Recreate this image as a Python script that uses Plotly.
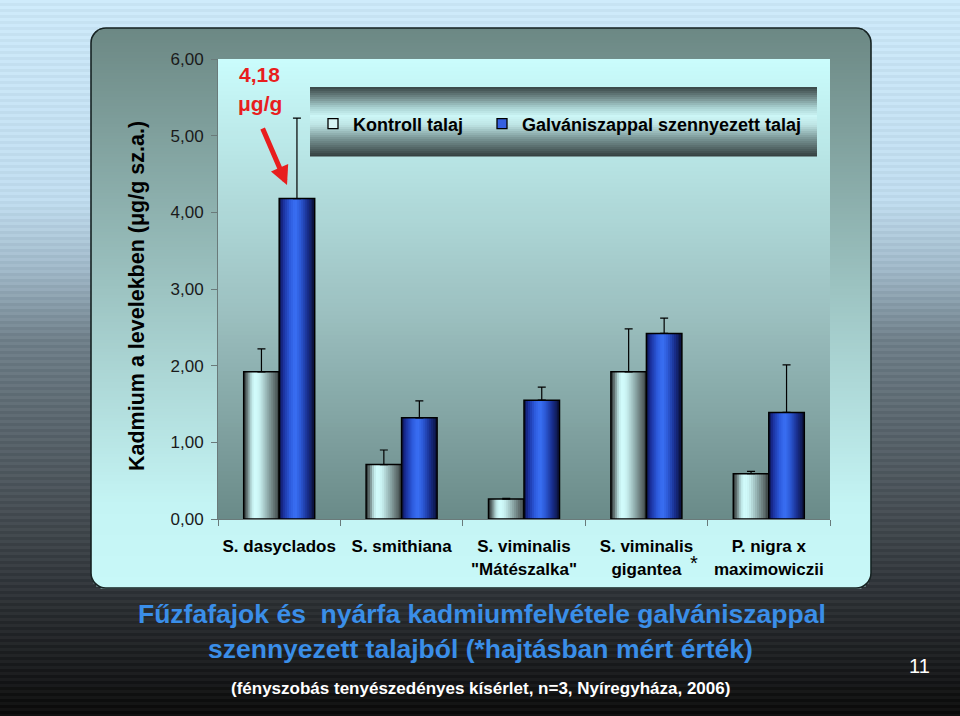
import math
import plotly.graph_objects as go

# ---------------- data ----------------
categories = ["S. dasyclados", "S. smithiana", 'S. viminalis<br>"Mátészalka"',
              "S. viminalis<br>gigantea", "P. nigra x<br>maximowiczii"]
series_names = ["Kontroll talaj", "Galvániszappal szennyezett talaj"]
kontroll = [1.92, 0.71, 0.26, 1.92, 0.59]
kontroll_err = [0.30, 0.19, 0.01, 0.56, 0.03]
galv = [4.18, 1.32, 1.55, 2.42, 1.39]
galv_err = [1.05, 0.22, 0.17, 0.20, 0.62]
ytick_vals = [0, 1, 2, 3, 4, 5, 6]
ytick_text = ["0,00", "1,00", "2,00", "3,00", "4,00", "5,00", "6,00"]

# ---------------- geometry / style ----------------
W, H = 960, 716
L, R, T, B = 218, 830, 59, 519
FONT = "Liberation Sans, Arial, sans-serif"


def px2x(px):
    return (px - L) / (R - L)


def py2y(py):
    return (B - py) / (B - T)


def interp(stops, t):
    t = max(0.0, min(1.0, t))
    for (t0, c0), (t1, c1) in zip(stops[:-1], stops[1:]):
        if t0 <= t <= t1:
            f = 0 if t1 == t0 else (t - t0) / (t1 - t0)
            return tuple(c0[k] + (c1[k] - c0[k]) * f for k in range(3))
    return stops[-1][1]


def rgb(c, d=0):
    return "rgb(%d,%d,%d)" % tuple(max(0, min(255, int(round(v + d)))) for v in c)


shapes = []


def stripe_rect(x0, x1, y0, y1, color):
    shapes.append(dict(type="rect", xref="paper", yref="paper",
                       x0=px2x(x0), x1=px2x(x1), y0=py2y(y1), y1=py2y(y0),
                       line=dict(width=0), fillcolor=color, layer="below"))


# slide background (vertical gradient with fine horizontal stripes)
bg_stops = [(0, (204, 232, 248)), (200 / H, (192, 220, 238)), (270 / H, (160, 184, 200)),
            (340 / H, (112, 128, 138)), (420 / H, (92, 104, 112)), (500 / H, (74, 82, 88)),
            (600 / H, (46, 50, 54)), (1, (14, 14, 14))]
step = 3
for i, y in enumerate(range(0, H, step)):
    c = interp(bg_stops, (y + step / 2) / H)
    stripe_rect(-5, W + 5, y, y + step + 0.6, rgb(c, -5 if i % 2 else 3))

# rounded panel with gradient
PX0, PX1, PY0, PY1, RAD = 91, 871, 28, 588, 15
panel_stops = [(0, (108, 136, 132)), (0.85, (196, 244, 244)), (1, (200, 248, 248))]
step = 3
y = PY0
while y < PY1:
    y1 = min(y + step, PY1)
    ym = (y + y1) / 2
    inset = 0
    if ym < PY0 + RAD:
        dy = PY0 + RAD - ym
        inset = RAD - math.sqrt(max(0, RAD ** 2 - dy ** 2))
    elif ym > PY1 - RAD:
        dy = ym - (PY1 - RAD)
        inset = RAD - math.sqrt(max(0, RAD ** 2 - dy ** 2))
    c = interp(panel_stops, (ym - PY0) / (PY1 - PY0))
    stripe_rect(PX0 + inset, PX1 - inset, y, y1 + 0.6, rgb(c))
    y = y1


def rounded_path(x0, y0, x1, y1, r):
    X = px2x
    Y = py2y
    k = 0.55 * r
    p = "M %f,%f " % (X(x0 + r), Y(y0))
    p += "L %f,%f " % (X(x1 - r), Y(y0))
    p += "C %f,%f %f,%f %f,%f " % (X(x1 - r + k), Y(y0), X(x1), Y(y0 + r - k), X(x1), Y(y0 + r))
    p += "L %f,%f " % (X(x1), Y(y1 - r))
    p += "C %f,%f %f,%f %f,%f " % (X(x1), Y(y1 - r + k), X(x1 - r + k), Y(y1), X(x1 - r), Y(y1))
    p += "L %f,%f " % (X(x0 + r), Y(y1))
    p += "C %f,%f %f,%f %f,%f " % (X(x0 + r - k), Y(y1), X(x0), Y(y1 - r + k), X(x0), Y(y1 - r))
    p += "L %f,%f " % (X(x0), Y(y0 + r))
    p += "C %f,%f %f,%f %f,%f Z" % (X(x0), Y(y0 + r - k), X(x0 + r - k), Y(y0), X(x0 + r), Y(y0))
    return p


shapes.append(dict(type="path", xref="paper", yref="paper",
                   path=rounded_path(PX0, PY0, PX1, PY1, RAD),
                   line=dict(color="#162222", width=1.6), layer="below"))

# plot area gradient
plot_stops = [(0, (202, 252, 252)), (0.55, (156, 192, 192)), (1, (106, 138, 136))]
step = 4
y = T
while y < B:
    y1 = min(y + step, B)
    c = interp(plot_stops, ((y + y1) / 2 - T) / (B - T))
    stripe_rect(L, R, y, y1 + 0.6, rgb(c))
    y = y1

# legend box gradient
LX0, LX1, LY0, LY1 = 310, 817, 87, 156
leg_stops = [(0, (56, 70, 70)), (0.12, (100, 122, 122)), (0.3, (170, 210, 210)),
             (0.42, (204, 246, 246)), (0.55, (190, 228, 228)), (0.75, (120, 148, 148)),
             (0.9, (80, 98, 98)), (1, (52, 64, 64))]
step = 2
y = LY0
while y < LY1:
    y1 = min(y + step, LY1)
    c = interp(leg_stops, ((y + y1) / 2 - LY0) / (LY1 - LY0))
    stripe_rect(LX0, LX1, y, y1 + 0.5, rgb(c))
    y = y1

# ---------------- bars ----------------
fig = go.Figure()
BW = 0.29
NSTRIPE = 18
kontroll_stops = [(0, (40, 48, 48)), (0.08, (90, 104, 104)), (0.22, (190, 230, 230)),
                  (0.32, (212, 255, 255)), (0.45, (200, 240, 240)), (0.65, (150, 180, 180)),
                  (0.85, (100, 116, 116)), (1, (60, 68, 68))]
galv_stops = [(0, (10, 16, 60)), (0.1, (24, 44, 150)), (0.3, (44, 90, 220)),
              (0.45, (58, 112, 245)), (0.6, (44, 90, 215)), (0.8, (24, 46, 140)),
              (1, (10, 16, 56))]

for vals, errs, base, stops in [(kontroll, kontroll_err, -BW, kontroll_stops),
                                (galv, galv_err, 0.0, galv_stops)]:
    sw = BW / NSTRIPE
    for i in range(NSTRIPE):
        c = interp(stops, (i + 0.5) / NSTRIPE)
        fig.add_trace(go.Bar(x=categories, y=vals, offset=base + i * sw,
                             width=sw * (1.4 if i < NSTRIPE - 1 else 1.0),
                             marker=dict(color=rgb(c), line=dict(width=0)),
                             showlegend=False, hoverinfo="skip"))
    fig.add_trace(go.Bar(x=categories, y=vals, offset=base, width=BW,
                         marker=dict(color="rgba(0,0,0,0)", line=dict(color="black", width=1.5)),
                         error_y=dict(type="data", symmetric=False, array=errs,
                                      arrayminus=[0] * len(errs), color="black",
                                      thickness=1.2, width=4),
                         showlegend=False, hoverinfo="skip"))

# legend entries (each in its own legend box to control spacing)
for name, col, leg in zip(series_names, ["#d8f4f4", "#3560e0"], ["legend", "legend2"]):
    fig.add_trace(go.Scatter(x=[None], y=[None], mode="markers", name=name, legend=leg,
                             marker=dict(symbol="square", size=10, color=col,
                                         line=dict(color="black", width=1.3))))

# ---------------- annotations ----------------
ann = []


def text_at(px, py, text, size, color, bold=False, angle=0, xanchor="center"):
    ann.append(dict(x=px2x(px), y=py2y(py), xref="paper", yref="paper", text=text,
                    showarrow=False, textangle=angle, xanchor=xanchor, yanchor="middle",
                    font=dict(family=FONT, size=size, color=color,
                              weight="bold" if bold else "normal")))


text_at(137, 296, "Kadmium a levelekben (μg/g sz.a.)", 21.5, "black", bold=True, angle=-90)
text_at(259.5, 74, "4,18", 21, "#e81e1e", bold=True)
text_at(260, 103, "μg/g", 21, "#e81e1e", bold=True)
ann.append(dict(x=px2x(287), y=py2y(185), xref="paper", yref="paper", text="",
                showarrow=True, ax=-25, ay=-58, arrowcolor="#e81e1e", arrowwidth=5,
                arrowhead=2, arrowsize=0.75))
text_at(694, 563, "*", 20, "black")
text_at(482, 614, "Fűzfafajok és  nyárfa kadmiumfelvétele galvániszappal", 26.5, "#3a8ee8", bold=True)
text_at(480, 649, "szennyezett talajból (*hajtásban mért érték)", 26.5, "#3a8ee8", bold=True)
text_at(480, 689, "(fényszobás tenyészedényes kísérlet, n=3, Nyíregyháza, 2006)", 17, "white", bold=True)
text_at(919, 666, "11", 20, "white")

leg_common = dict(orientation="h", xanchor="left", y=py2y(124), yanchor="middle",
                  bgcolor="rgba(0,0,0,0)", borderwidth=0,
                  font=dict(family=FONT, size=18, color="black", weight="bold"))

fig.update_layout(
    width=W, height=H,
    margin=dict(l=L, r=W - R, t=T, b=H - B, pad=0),
    paper_bgcolor="#101010", plot_bgcolor="rgba(0,0,0,0)",
    barmode="overlay",
    shapes=shapes, annotations=ann,
    showlegend=True,
    legend=dict(x=px2x(313), **leg_common),
    legend2=dict(x=px2x(482), **leg_common),
    xaxis=dict(type="category", categoryorder="array", categoryarray=categories,
               range=[-0.5, 4.5], showline=True, linecolor="#6a7a7a", linewidth=1,
               ticks="outside", tickson="boundaries", ticklen=6, tickcolor="#6a7a7a",
               ticklabelstandoff=12,
               showgrid=False, zeroline=False,
               tickfont=dict(family=FONT, size=17, color="black", weight="bold")),
    yaxis=dict(range=[0, 6], tickvals=ytick_vals, ticktext=ytick_text,
               showline=True, linecolor="#6a7a7a", linewidth=1,
               ticks="outside", ticklen=6, tickcolor="#6a7a7a", ticklabelstandoff=4,
               showgrid=False, zeroline=False,
               tickfont=dict(family=FONT, size=17, color="#1a1a1a")),
)

fig.write_html("out.html")
